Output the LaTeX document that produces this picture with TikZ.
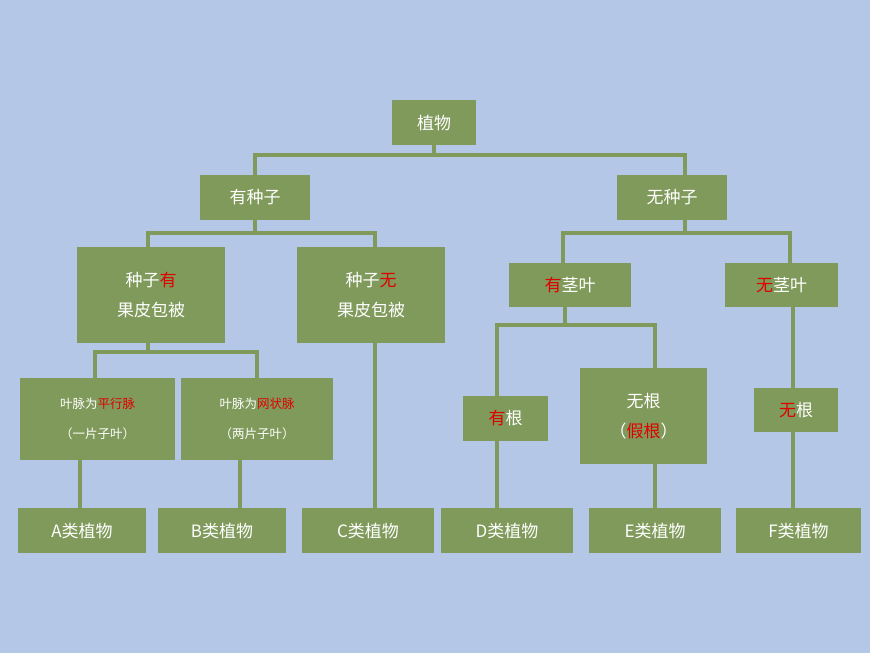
\documentclass[tikz,border=0pt]{standalone}
\usepackage{fontspec}
\setmainfont{Noto Sans CJK SC}
\definecolor{bgblue}{HTML}{B4C7E7}
\definecolor{boxgreen}{HTML}{7F9A5A}
\definecolor{keyred}{HTML}{E00000}
\tikzset{
	plant/.style={fill=boxgreen,text=white,font=\fontsize{17}{30}\selectfont,inner sep=0pt,align=center},
	small/.style={plant,font=\fontsize{12.5}{30}\selectfont},
	link/.style={draw=boxgreen,line width=3.5pt}
}
\newcommand{\hl}[1]{\textcolor{keyred}{#1}}
\begin{document}
\begin{tikzpicture}[x=1pt,y=-1pt]
	%background
	\fill[bgblue] (0,0) rectangle (870,653);
	\useasboundingbox (0,0) rectangle (870,653);
	
	%connectors (drawn first, boxes cover them)
	\draw[link] (434,140)--(434,155);
	\draw[link] (255,190)--(255,155)--(685,155)--(685,190);
	\draw[link] (255,210)--(255,233);
	\draw[link] (148,260)--(148,233)--(375,233)--(375,260);
	\draw[link] (685,210)--(685,233);
	\draw[link] (563,280)--(563,233)--(790,233)--(790,280);
	\draw[link] (148,330)--(148,352);
	\draw[link] (95,390)--(95,352)--(257,352)--(257,390);
	\draw[link] (80,450)--(80,520);
	\draw[link] (240,450)--(240,520);
	\draw[link] (375,330)--(375,520);
	\draw[link] (565,300)--(565,325);
	\draw[link] (497,520)--(497,325)--(655,325)--(655,520);
	\draw[link] (793,300)--(793,520);
	
	%level 0 and 1
	\node[plant,minimum width=84,minimum height=45] (zw) at (434,122.5) {植物};
	\node[plant,minimum width=110,minimum height=45] (yzz) at (255,197.5) {有种子};
	\node[plant,minimum width=110,minimum height=45] (wzz) at (672,197.5) {无种子};
	
	%level 2
	\node[plant,minimum width=148,minimum height=96] (zzy) at (151,295) {种子\hl{有}\\果皮包被};
	\node[plant,minimum width=148,minimum height=96] (zzw) at (371,295) {种子\hl{无}\\果皮包被};
	\node[plant,minimum width=122,minimum height=44] (yjy) at (570,285) {\hl{有}茎叶};
	\node[plant,minimum width=113,minimum height=44] (wjy) at (781.5,285) {\hl{无}茎叶};
	
	%level 3
	\node[small,minimum width=155,minimum height=82] (pxm) at (97.5,419) {叶脉为\hl{平行脉}\\（一片子叶）};
	\node[small,minimum width=152,minimum height=82] (wzm) at (257,419) {叶脉为\hl{网状脉}\\（两片子叶）};
	\node[plant,minimum width=85,minimum height=45] (yg) at (505.5,418.5) {\hl{有}根};
	\node[plant,minimum width=127,minimum height=96] (wgj) at (643.5,416) {无根\\（\hl{假根}）};
	\node[plant,minimum width=84,minimum height=44] (wg) at (796,410) {\hl{无}根};
	
	%level 4
	\node[plant,minimum width=128,minimum height=45] (a) at (82,530.5) {A类植物};
	\node[plant,minimum width=128,minimum height=45] (b) at (222,530.5) {B类植物};
	\node[plant,minimum width=132,minimum height=45] (c) at (368,530.5) {C类植物};
	\node[plant,minimum width=132,minimum height=45] (d) at (507,530.5) {D类植物};
	\node[plant,minimum width=132,minimum height=45] (e) at (655,530.5) {E类植物};
	\node[plant,minimum width=125,minimum height=45] (f) at (798.5,530.5) {F类植物};
\end{tikzpicture}
\end{document}
